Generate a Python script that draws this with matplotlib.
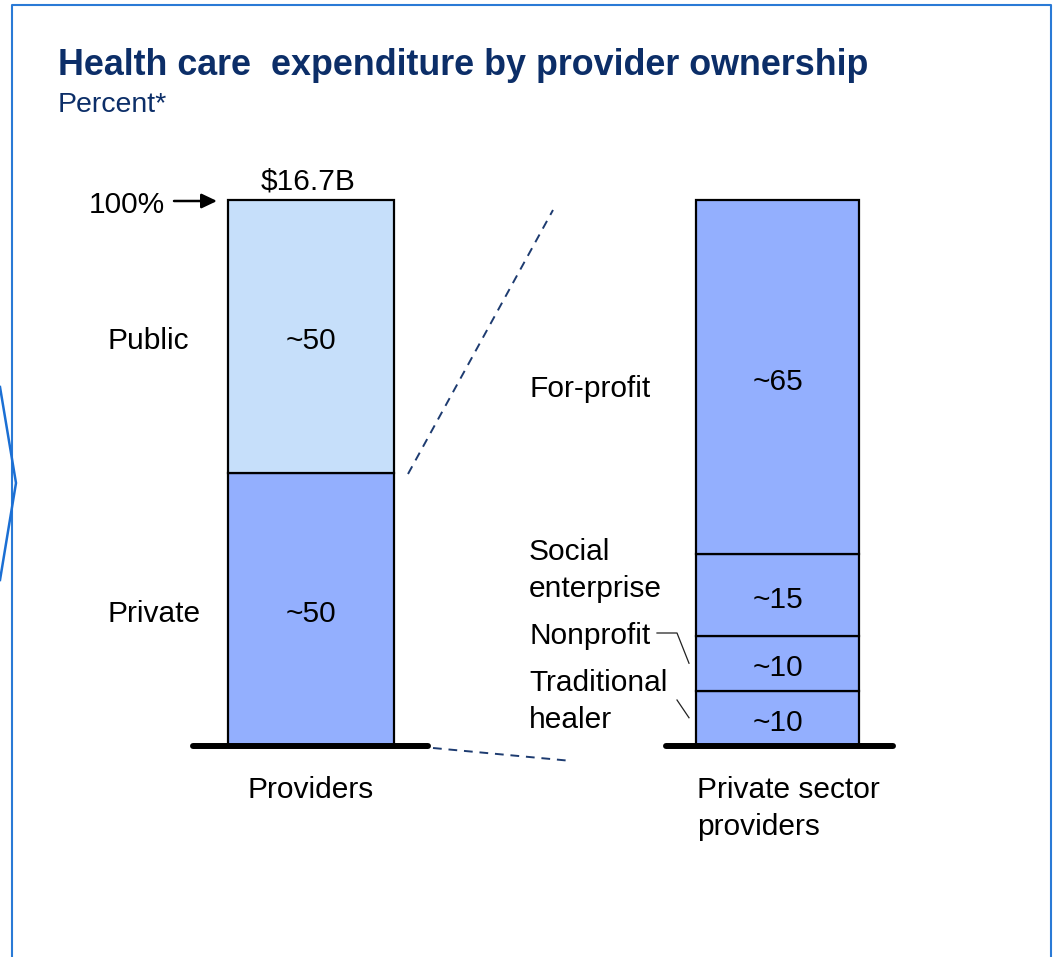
import matplotlib
matplotlib.use("Agg")
import matplotlib.pyplot as plt
from matplotlib.lines import Line2D

plt.rcParams['font.family'] = ['Liberation Sans', 'DejaVu Sans']

# ---- data -------------------------------------------------------------
bar_names = ["Providers", "Private sector\nproviders"]
total_spend = "$16.7B"
provider_labels = ["Private", "Public"]
provider_values = [50, 50]
private_labels = ["Traditional\nhealer", "Nonprofit", "Social\nenterprise", "For-profit"]
private_values = [10, 10, 15, 65]

# ---- style ------------------------------------------------------------
NAVY = "#0c2e68"
LIGHT = "#c6dffa"
MID = "#93affe"
FRAME = "#2a7ad6"
FS = 21.5
LSP = 1.4

W, H = 1053, 957
fig = plt.figure(figsize=(W / 100, H / 100), dpi=100)
ax = fig.add_axes([0, 0, 1, 1])
ax.set_axis_off()

# axes scale: category 0 centred at px 311, category 1 at px 777.5;
# value 0 at px 745 (from top), 100 at px 200
XC0, XSTEP = 311.0, 466.5
Y0, YSCALE = 745.0, 5.45
ax.set_xlim(-XC0 / XSTEP, (W - XC0) / XSTEP)
ax.set_ylim(-(H - Y0) / YSCALE, Y0 / YSCALE)


def fx(px):
    return px / W


def fy(py):
    return 1 - py / H


def px_y(value):
    """Pixel row (from top) of a data value."""
    return Y0 - value * YSCALE


# ---- bars -------------------------------------------------------------
widths = [0.356, 0.35]
stacks = [
    (provider_values, [MID, LIGHT]),
    (private_values, [MID] * len(private_values)),
]
centres = {}
for i, (vals, cols) in enumerate(stacks):
    bottom = 0
    centres[i] = []
    for v, c in zip(vals, cols):
        ax.bar(i, v, bottom=bottom, width=widths[i], color=c,
               edgecolor="black", linewidth=1.6, zorder=2)
        centres[i].append(bottom + v / 2)
        bottom += v

# segment value labels
for i, (vals, _) in enumerate(stacks):
    for v, c in zip(vals, centres[i]):
        ax.annotate(f"~{v}", (i, c), xytext=(0, -9.5), textcoords="offset points",
                    ha="center", va="baseline", fontsize=FS, zorder=3)

# base lines
for x0, x1 in [(193, 428), (666, 893)]:
    fig.add_artist(Line2D([fx(x0), fx(x1)], [fy(746), fy(746)], color="black",
                          lw=4.3, solid_capstyle="round", zorder=4))

# ---- category labels on the left of each bar ---------------------------
for lab, c in zip(provider_labels, centres[0]):
    ax.annotate(lab, (-0.437, c), xytext=(0, -9.5), textcoords="offset points",
                ha="left", va="baseline", fontsize=FS)

# private-sector labels (placed beside the bar, leaders to small segments)
fig.text(fx(529), fy(397), private_labels[3], ha="left", va="baseline", fontsize=FS)
fig.text(fx(529), fy(597), private_labels[2], ha="left", va="baseline",
         fontsize=FS, linespacing=LSP)
fig.text(fx(529), fy(644), private_labels[1], ha="left", va="baseline", fontsize=FS)
fig.text(fx(529), fy(728), private_labels[0], ha="left", va="baseline",
         fontsize=FS, linespacing=LSP)

# leader lines
np_mid = px_y(centres[1][1])
th_mid = px_y(centres[1][0])
fig.add_artist(Line2D([fx(657), fx(677), fx(689)], [fy(633), fy(633), fy(np_mid)],
                      color="#222222", lw=0.9))
fig.add_artist(Line2D([fx(677), fx(689)], [fy(700), fy(th_mid)],
                      color="#222222", lw=0.9))

# ---- bar names under the axes -----------------------------------------
fig.text(fx(311), fy(798), bar_names[0], ha="center", va="baseline", fontsize=FS)
fig.text(fx(697), fy(835), bar_names[1], ha="left", va="baseline",
         fontsize=FS, linespacing=LSP)

# ---- total and 100% marker --------------------------------------------
fig.text(fx(308), fy(189), total_spend, ha="center", va="baseline", fontsize=FS)
fig.text(fx(89), fy(213), "100%", ha="left", va="baseline", fontsize=FS)
ax.annotate("", xy=(fx(217), fy(201)), xycoords="figure fraction",
            xytext=(fx(174), fy(201)), textcoords="figure fraction",
            arrowprops=dict(arrowstyle="-|>,head_length=0.42,head_width=0.2",
                            color="black", lw=1.8,
                            mutation_scale=22, shrinkA=0, shrinkB=0))

# ---- dashed breakout lines --------------------------------------------
for (x0, y0), (x1, y1) in [((408, 474), (553, 210)), ((433, 748), (572, 761))]:
    fig.add_artist(Line2D([fx(x0), fx(x1)], [fy(y0), fy(y1)], color="#1d3b70",
                          lw=1.4, dashes=(4.5, 3.5)))

# ---- titles -----------------------------------------------------------
fig.text(fx(58), fy(75), "Health care  expenditure by provider ownership",
         ha="left", va="baseline", fontsize=25.8, fontweight="bold", color=NAVY)
fig.text(fx(58), fy(112), "Percent*", ha="left", va="baseline",
         fontsize=20.5, color=NAVY)

# ---- frame and side chevron ------------------------------------------
fig.add_artist(Line2D([fx(11.5), fx(11.5), fx(1051), fx(1051)],
                      [fy(H + 5), fy(5), fy(5), fy(H + 5)],
                      color=FRAME, lw=1.5))
fig.add_artist(Line2D([fx(0), fx(16), fx(0)], [fy(387), fy(483), fy(580)],
                      color="#1b6fd4", lw=1.8))

fig.savefig("out.png", dpi=100)
